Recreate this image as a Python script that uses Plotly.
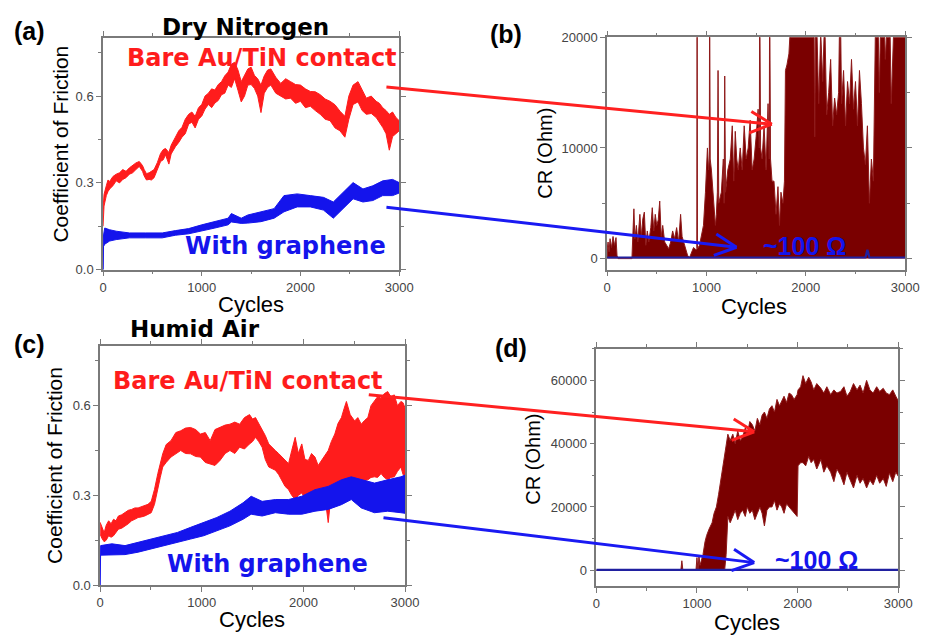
import math
import plotly.graph_objects as go

# ---------------- data ----------------
# (a) Dry nitrogen, coefficient of friction: noisy band, lower / upper envelope
a_red_x = [0, 10, 33, 50, 67, 100, 133, 167, 200, 233,
           267, 300, 333, 367, 400, 417, 440, 467, 490, 517,
           550, 583, 610, 633, 667, 690, 733, 767, 800, 833,
           867, 900, 933, 967, 1000, 1033, 1067, 1100, 1133, 1167,
           1200, 1233, 1267, 1300, 1333, 1367, 1400, 1433, 1467, 1500,
           1533, 1567, 1600, 1633, 1667, 1700, 1750, 1800, 1850, 1900,
           1950, 2000, 2050, 2100, 2150, 2200, 2250, 2300, 2350, 2400,
           2450, 2490, 2533, 2583, 2625, 2667, 2717, 2767, 2800, 2833,
           2867, 2900, 2933, 2967, 3000]
a_red_lo = [0.15, 0.22, 0.256, 0.27, 0.279, 0.29, 0.307, 0.30, 0.312, 0.318,
            0.33, 0.335, 0.346, 0.357, 0.34, 0.324, 0.31, 0.312, 0.31, 0.318,
            0.345, 0.374, 0.38, 0.397, 0.365, 0.40, 0.425, 0.44, 0.458, 0.47,
            0.503, 0.51, 0.49, 0.52, 0.531, 0.555, 0.571, 0.56, 0.576, 0.585,
            0.605, 0.61, 0.638, 0.63, 0.66, 0.62, 0.58, 0.60, 0.638, 0.64,
            0.627, 0.60, 0.543, 0.61, 0.63, 0.638, 0.61, 0.60, 0.59, 0.593,
            0.575, 0.582, 0.56, 0.565, 0.55, 0.537, 0.52, 0.515, 0.49, 0.48,
            0.458, 0.52, 0.571, 0.58, 0.55, 0.537, 0.54, 0.526, 0.51, 0.492,
            0.47, 0.413, 0.46, 0.47, 0.48]
a_red_hi = [0.21, 0.26, 0.29, 0.31, 0.305, 0.322, 0.33, 0.335, 0.346, 0.34,
            0.352, 0.362, 0.369, 0.374, 0.36, 0.346, 0.332, 0.335, 0.34, 0.346,
            0.37, 0.402, 0.415, 0.419, 0.405, 0.43, 0.458, 0.48, 0.492, 0.52,
            0.537, 0.545, 0.53, 0.56, 0.571, 0.60, 0.61, 0.625, 0.621, 0.64,
            0.65, 0.67, 0.683, 0.71, 0.717, 0.69, 0.65, 0.67, 0.694, 0.70,
            0.672, 0.66, 0.638, 0.67, 0.69, 0.694, 0.665, 0.644, 0.66, 0.65,
            0.64, 0.638, 0.625, 0.616, 0.615, 0.605, 0.59, 0.582, 0.57, 0.548,
            0.53, 0.60, 0.638, 0.65, 0.62, 0.593, 0.60, 0.582, 0.575, 0.56,
            0.55, 0.537, 0.545, 0.526, 0.515]

a_blue_x = [0, 5, 17, 67, 133, 267, 433, 600, 733, 867,
            1000, 1133, 1267, 1300, 1400, 1467, 1600, 1733, 1833, 1967,
            2100, 2233, 2333, 2433, 2533, 2633, 2733, 2833, 2933, 3000]
a_blue_lo = [0.0, 0.08, 0.088, 0.099, 0.104, 0.11, 0.11, 0.11, 0.119, 0.124,
             0.133, 0.144, 0.155, 0.165, 0.16, 0.161, 0.166, 0.178, 0.2, 0.217,
             0.217, 0.206, 0.178, 0.211, 0.245, 0.234, 0.239, 0.256, 0.256, 0.265]
a_blue_hi = [0.0, 0.12, 0.144, 0.138, 0.133, 0.127, 0.127, 0.127, 0.135, 0.142,
             0.155, 0.166, 0.178, 0.194, 0.178, 0.189, 0.2, 0.211, 0.256, 0.262,
             0.256, 0.25, 0.234, 0.267, 0.301, 0.279, 0.29, 0.307, 0.312, 0.301]

# (b) Dry nitrogen, contact resistance (Ohm)
b_cr_x = [0, 10, 20, 30, 45, 60, 75, 90, 100, 110,
          250, 260, 270, 280, 295, 310, 330, 345, 360, 375,
          390, 405, 420, 440, 455, 470, 485, 500, 515, 530,
          545, 560, 580, 600, 620, 640, 660, 680, 700, 720,
          740, 755, 770, 790, 810, 830, 850, 870, 895, 903,
          906, 910, 930, 950, 970, 990, 1010, 1022, 1029, 1032,
          1038, 1050, 1070, 1090, 1100, 1110, 1117, 1124, 1150, 1170,
          1178, 1184, 1192, 1215, 1240, 1260, 1275, 1290, 1305, 1320,
          1340, 1360, 1380, 1400, 1420, 1440, 1460, 1480, 1500, 1520,
          1532, 1536, 1545, 1560, 1580, 1600, 1620, 1632, 1636, 1645,
          1660, 1680, 1700, 1720, 1735, 1750, 1770, 1785, 1795, 1810,
          1830, 1850, 1870, 1900, 1950, 2000, 2050, 2080, 2090, 2100,
          2130, 2150, 2170, 2190, 2210, 2230, 2250, 2270, 2290, 2310,
          2330, 2345, 2360, 2380, 2400, 2420, 2440, 2460, 2480, 2500,
          2520, 2540, 2560, 2580, 2600, 2620, 2640, 2660, 2680, 2700,
          2720, 2740, 2760, 2780, 2800, 2820, 2840, 2860, 2880, 2900,
          2920, 2940, 2960, 2980, 3000]
b_cr_y = [800, 1500, 600, 1800, 1000, 2000, 1200, 1900, 300, 0,
          0, 2500, 4500, 1800, 3000, 1500, 4000, 2000, 3600, 4200,
          1200, 2500, 1500, 2800, 4600, 2500, 4000, 3000, 3500, 5200,
          2000, 3000, 1500, 1200, 900, 1500, 2500, 1800, 2800, 1500,
          4000, 2000, 1500, 800, 300, 100, 600, 1000, 800, 900,
          25000, 900, 1200, 2000, 3000, 6000, 10000, 8000, 9000, 25000,
          9000, 8000, 5000, 3000, 4000, 6000, 17000, 5000, 6000, 9000,
          5000, 16500, 6000, 8000, 9000, 12000, 7000, 11500, 9000, 8000,
          10000, 8000, 12000, 9000, 10000, 12500, 8000, 9000, 11000, 13500,
          10000, 25000, 10000, 9000, 12000, 8000, 14000, 9000, 25000, 9000,
          7000, 7000, 4000, 6500, 3000, 6000, 5000, 7000, 17000, 17500,
          18500, 22000, 25000, 25000, 25000, 25000, 25000, 25000, 11000, 25000,
          14000, 20500, 16000, 22000, 13000, 15000, 18000, 12000, 14500, 13000,
          15000, 25000, 14000, 17000, 12000, 16000, 14000, 18000, 13500, 16000,
          12000, 17000, 14000, 10000, 8500, 12000, 5000, 9000, 7000, 20500,
          25000, 15000, 25000, 25000, 18000, 25000, 25000, 14000, 25000, 25000,
          25000, 25000, 25000, 25000, 25000]
b_gr_x = [0, 2600, 2620, 2640, 3000]
b_gr_y = [100, 100, 800, 100, 100]

# (c) Humid air, coefficient of friction
c_red_x = [0, 20, 40, 60, 84, 108, 132, 156, 180, 212,
           245, 277, 310, 342, 374, 407, 439, 471, 503, 535,
           568, 592, 616, 650, 697, 745, 793, 840, 890, 940,
           987, 1035, 1083, 1130, 1180, 1230, 1277, 1325, 1373, 1420,
           1470, 1500, 1529, 1560, 1594, 1625, 1659, 1690, 1724, 1756,
           1789, 1820, 1854, 1885, 1919, 1950, 1984, 2015, 2049, 2080,
           2114, 2145, 2179, 2210, 2244, 2275, 2309, 2340, 2374, 2400,
           2423, 2460, 2504, 2535, 2569, 2600, 2634, 2665, 2699, 2730,
           2764, 2795, 2829, 2860, 2894, 2925, 2959, 2980, 3000]
c_red_lo = [0.17, 0.155, 0.145, 0.15, 0.165, 0.16, 0.165, 0.175, 0.187, 0.19,
            0.198, 0.205, 0.215, 0.22, 0.226, 0.228, 0.231, 0.235, 0.242, 0.27,
            0.319, 0.36, 0.395, 0.41, 0.428, 0.44, 0.45, 0.44, 0.439, 0.43,
            0.428, 0.41, 0.406, 0.40, 0.417, 0.44, 0.45, 0.44, 0.461, 0.455,
            0.472, 0.48, 0.494, 0.48, 0.461, 0.42, 0.395, 0.39, 0.384, 0.37,
            0.351, 0.33, 0.319, 0.30, 0.286, 0.30, 0.308, 0.29, 0.297, 0.30,
            0.297, 0.29, 0.286, 0.30, 0.209, 0.31, 0.319, 0.32, 0.33, 0.33,
            0.34, 0.34, 0.352, 0.35, 0.352, 0.35, 0.352, 0.36, 0.362, 0.36,
            0.373, 0.36, 0.352, 0.36, 0.362, 0.38, 0.395, 0.37, 0.362]
c_red_hi = [0.21, 0.19, 0.175, 0.20, 0.215, 0.205, 0.22, 0.215, 0.231, 0.235,
            0.242, 0.25, 0.253, 0.258, 0.258, 0.262, 0.264, 0.27, 0.28, 0.32,
            0.373, 0.41, 0.439, 0.47, 0.483, 0.51, 0.516, 0.525, 0.527, 0.52,
            0.505, 0.51, 0.483, 0.52, 0.527, 0.535, 0.538, 0.545, 0.538, 0.56,
            0.57, 0.555, 0.56, 0.54, 0.516, 0.50, 0.472, 0.46, 0.45, 0.44,
            0.428, 0.42, 0.406, 0.45, 0.494, 0.44, 0.472, 0.42, 0.417, 0.44,
            0.428, 0.40, 0.417, 0.43, 0.45, 0.48, 0.505, 0.54, 0.56, 0.59,
            0.614, 0.57, 0.549, 0.56, 0.538, 0.55, 0.56, 0.60, 0.614, 0.63,
            0.625, 0.64, 0.647, 0.63, 0.636, 0.60, 0.614, 0.61, 0.592]

c_blue_x = [0, 5, 116, 245, 374, 503, 632, 761, 890, 1019,
            1148, 1277, 1406, 1486, 1594, 1724, 1854, 1984, 2114, 2244,
            2374, 2471, 2569, 2699, 2829, 2959, 3000]
c_blue_lo = [0.0, 0.10, 0.10, 0.102, 0.11, 0.122, 0.132, 0.143, 0.154, 0.165,
             0.182, 0.198, 0.22, 0.237, 0.231, 0.242, 0.237, 0.237, 0.247, 0.253,
             0.269, 0.286, 0.258, 0.242, 0.247, 0.242, 0.24]
c_blue_hi = [0.0, 0.132, 0.138, 0.132, 0.143, 0.154, 0.165, 0.176, 0.193, 0.209,
             0.226, 0.247, 0.275, 0.297, 0.28, 0.286, 0.286, 0.297, 0.319, 0.33,
             0.352, 0.362, 0.352, 0.341, 0.352, 0.362, 0.368]

# (d) Humid air, contact resistance (Ohm)
d_cr_x = [0, 840, 850, 860, 990, 1000, 1010, 1020, 1030, 1060,
          1080, 1096, 1120, 1150, 1170, 1193, 1215, 1242, 1260, 1275,
          1290, 1307, 1330, 1356, 1380, 1405, 1430, 1453, 1480, 1500,
          1525, 1550, 1575, 1600, 1625, 1647, 1670, 1695, 1720, 1745,
          1770, 1795, 1820, 1842, 1865, 1890, 1915, 1939, 1965, 1995,
          2004, 2030, 2053, 2080, 2110, 2134, 2160, 2190, 2231, 2260,
          2290, 2328, 2360, 2390, 2426, 2460, 2490, 2523, 2555, 2590,
          2620, 2650, 2685, 2718, 2750, 2785, 2815, 2850, 2880, 2912,
          2945, 2975, 3000]
d_cr_lo = [0, 0, 0, 0, 0, 0, 0, 0, 0, 0,
           0, 0, 0, 0, 0, 0, 0, 0, 0, 0,
           5000, 17000, 15000, 17000, 19000, 16000, 18000, 19000, 17000, 20000,
           18000, 19000, 16000, 18000, 20000, 18000, 14000, 19000, 20000, 20000,
           22000, 19000, 21000, 20000, 18000, 21000, 20000, 19000, 18000, 17000,
           33000, 34000, 34000, 33000, 36000, 34000, 35000, 32000, 35000, 31000,
           33000, 31000, 28000, 32000, 30000, 27000, 31000, 28500, 26000, 30000,
           27500, 29000, 26000, 28500, 27000, 30000, 27500, 29000, 26500, 30700,
           28000, 31000, 29700]
d_cr_hi = [0, 0, 3000, 0, 0, 4000, 0, 4500, 1500, 5000,
           9000, 11000, 13000, 15000, 18000, 20000, 24000, 30000, 34000, 36000,
           40000, 43000, 41000, 43000, 40000, 44000, 41000, 42000, 45000, 43000,
           47000, 46000, 44000, 48000, 46000, 49000, 50000, 48000, 51000, 52000,
           50000, 54000, 52000, 53500, 55000, 53000, 56000, 55500, 54000, 55500,
           57000, 58000, 61500, 59000, 61000, 59500, 57000, 59000, 57500, 56000,
           58000, 55500, 57000, 56000, 56500, 58000, 55000, 56500, 59000, 57000,
           58500, 56000, 60000, 57000, 56000, 58000, 56500, 57500, 56000, 55500,
           57000, 55000, 53500]
d_gr_x = [0, 3000]
d_gr_y = [100, 100]

for xs, *ys in [(a_red_x, a_red_lo, a_red_hi), (a_blue_x, a_blue_lo, a_blue_hi),
                (b_cr_x, b_cr_y), (c_red_x, c_red_lo, c_red_hi),
                (c_blue_x, c_blue_lo, c_blue_hi), (d_cr_x, d_cr_lo, d_cr_hi)]:
    for y in ys:
        assert len(xs) == len(y), (len(xs), len(y))

# ---------------- styling ----------------
W, H = 928, 638
RED = '#ff1c1c'
BLUE = '#1414ec'
DARKRED = '#7a0000'
NAVY = '#2020a0'
AXC = '#7a7a7a'
SANS = 'Liberation Sans, Arial, sans-serif'
HEAVY = 'DejaVu Sans, Liberation Sans, sans-serif'


def pxx(x):
    return x / W


def pxy(y):
    return 1 - y / H


fig = go.Figure()


def band(x, lo, hi, color, xa, ya, lw=1.0, linecolor=None):
    fig.add_trace(go.Scatter(
        x=list(x) + list(x)[::-1], y=list(hi) + list(lo)[::-1],
        fill='toself', fillcolor=color, mode='lines',
        line=dict(color=linecolor or color, width=lw),
        xaxis=xa, yaxis=ya, showlegend=False, hoverinfo='skip'))


band(a_red_x, a_red_lo, a_red_hi, RED, 'x', 'y')
band(a_blue_x, a_blue_lo, a_blue_hi, BLUE, 'x', 'y')

fig.add_trace(go.Scatter(x=b_cr_x, y=b_cr_y, mode='lines', fill='tozeroy',
                         fillcolor=DARKRED, line=dict(color='#8e1a1a', width=1),
                         xaxis='x2', yaxis='y2', showlegend=False, hoverinfo='skip'))
fig.add_trace(go.Scatter(x=b_gr_x, y=b_gr_y, mode='lines', line=dict(color=NAVY, width=2.2),
                         xaxis='x2', yaxis='y2', showlegend=False, hoverinfo='skip'))

band(c_red_x, c_red_lo, c_red_hi, RED, 'x3', 'y3')
band(c_blue_x, c_blue_lo, c_blue_hi, BLUE, 'x3', 'y3')

band(d_cr_x, d_cr_lo, d_cr_hi, DARKRED, 'x4', 'y4', lw=1, linecolor='#8e1a1a')
fig.add_trace(go.Scatter(x=d_gr_x, y=d_gr_y, mode='lines', line=dict(color=NAVY, width=2.2),
                         xaxis='x4', yaxis='y4', showlegend=False, hoverinfo='skip'))


def axstyle(**kw):
    d = dict(showline=True, linecolor=AXC, linewidth=1.5, mirror='allticks',
             ticks='outside', ticklen=5, tickcolor=AXC, tickwidth=1.2,
             tickfont=dict(family=SANS, size=13, color='#444'),
             showgrid=False, zeroline=False, fixedrange=True)
    d.update(kw)
    return d


def xax(dom, anchor):
    return axstyle(domain=dom, anchor=anchor, range=[0, 3000], tickmode='linear',
                   tick0=0, dtick=1000,
                   minor=dict(ticks='outside', dtick=500, tick0=0, ticklen=3, tickcolor=AXC))


def yax(dom, anchor, rng, dtick, minor, fmt):
    return axstyle(domain=dom, anchor=anchor, range=rng, tickmode='linear', tick0=0,
                   dtick=dtick, tickformat=fmt,
                   minor=dict(ticks='outside', dtick=minor, tick0=0, ticklen=3, tickcolor=AXC))


fig.update_layout(
    width=W, height=H, margin=dict(l=0, r=0, t=0, b=0),
    paper_bgcolor='white', plot_bgcolor='white', showlegend=False,
    xaxis=xax([pxx(101), pxx(403)], 'y'),
    yaxis=yax([pxy(269), pxy(32)], 'x', [0, 0.8], 0.3, 0.15, '.1f'),
    xaxis2=xax([pxx(615), pxx(919)], 'y2'),
    yaxis2=yax([pxy(269), pxy(31)], 'x2', [-1000, 20000], 10000, 5000, 'd'),
    xaxis3=xax([pxx(98), pxx(409)], 'y3'),
    yaxis3=yax([pxy(592), pxy(347)], 'x3', [0, 0.8], 0.3, 0.15, '.1f'),
    xaxis4=xax([pxx(604), pxx(912)], 'y4'),
    yaxis4=yax([pxy(593), pxy(350)], 'x4', [-5000, 70000], 20000, 10000, 'd'),
)

ann = []


def text(x, y, s, size, color='black', family=SANS, bold=False, angle=0):
    ann.append(dict(x=pxx(x), y=pxy(y), xref='paper', yref='paper', text=s,
                    showarrow=False, xanchor='center', yanchor='middle', textangle=angle,
                    font=dict(family=family, size=size, color=color,
                              weight='bold' if bold else 'normal')))


# panel letters and titles
text(26, 25, '(a)', 25, bold=True)
text(512, 28, '(b)', 25, bold=True)
text(26, 345, '(c)', 25, bold=True)
text(517, 349, '(d)', 25, bold=True)
text(246, 20, 'Dry Nitrogen', 23, family=HEAVY, bold=True)
text(195, 330, 'Humid Air', 23, family=HEAVY, bold=True)
# in-plot labels
text(263, 52, 'Bare Au/TiN contact', 24, RED, HEAVY, True)
text(287, 245, 'With graphene', 24, BLUE, HEAVY, True)
text(249, 383, 'Bare Au/TiN contact', 24, RED, HEAVY, True)
text(269, 570, 'With graphene', 24, BLUE, HEAVY, True)
text(816, 245, '~100 Ω', 25, BLUE, SANS, True)
text(829, 566, '~100 Ω', 25, BLUE, SANS, True)
# axis titles
text(252, 305, 'Cycles', 22)
text(765, 307, 'Cycles', 22)
text(253, 627, 'Cycles', 22)
text(758, 630, 'Cycles', 22)
text(58, 140, 'Coefficient of Friction', 21, angle=-90)
text(52, 469, 'Coefficient of Friction', 21, angle=-90)
text(552, 150, 'CR (Ohm)', 20, angle=-90)
text(540, 463, 'CR (Ohm)', 20, angle=-90)

fig.update_layout(annotations=ann)

# arrows linking friction panels to resistance panels (open V heads)
shapes = []


def arrow(x0, y0, x1, y1, color, head=22, spread=11, w=3):
    dx, dy = x1 - x0, y1 - y0
    L = math.hypot(dx, dy)
    ux, uy = dx / L, dy / L
    nx, ny = -uy, ux
    segs = [(x0, y0, x1, y1),
            (x1, y1, x1 - head * ux + spread * nx, y1 - head * uy + spread * ny),
            (x1, y1, x1 - head * ux - spread * nx, y1 - head * uy - spread * ny)]
    for a, b, c, d in segs:
        shapes.append(dict(type='line', xref='paper', yref='paper',
                           x0=pxx(a), y0=pxy(b), x1=pxx(c), y1=pxy(d),
                           line=dict(color=color, width=w)))


arrow(390, 82, 783, 120, '#ff2020')
arrow(390, 205, 747, 246, '#1a1af2')
arrow(372, 397, 765, 435, '#ff2020')
arrow(387, 523, 765, 569, '#1a1af2')
fig.update_layout(shapes=shapes)

fig.write_html('out.html')
